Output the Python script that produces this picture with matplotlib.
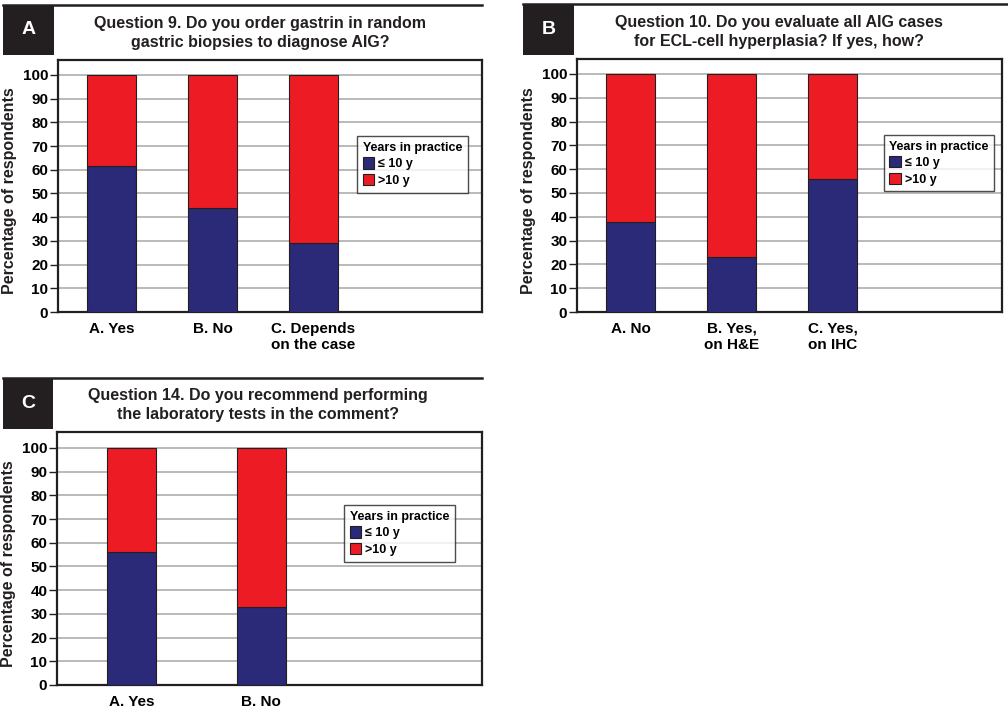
import matplotlib
matplotlib.use('Agg')
import matplotlib.pyplot as plt
from matplotlib.patches import Rectangle
from matplotlib.lines import Line2D

plt.rcParams['font.family'] = ['Liberation Sans', 'DejaVu Sans']
plt.rcParams['font.weight'] = 'bold'

# colors
navy = '#2a2a78'
red = '#ed1c24'
ink = '#231f20'
gridgray = '#b4b4b4'

# data (percent of respondents)
q9_labels = ['A. Yes', 'B. No', 'C. Depends\non the case']
q9_le10 = [61.5, 44.0, 29.0]
q9_gt10 = [38.5, 56.0, 71.0]

q10_labels = ['A. No', 'B. Yes,\non H&E', 'C. Yes,\non IHC']
q10_le10 = [37.7, 23.0, 56.0]
q10_gt10 = [62.3, 77.0, 44.0]

q14_labels = ['A. Yes', 'B. No']
q14_le10 = [56.0, 33.0]
q14_gt10 = [44.0, 67.0]

legend_title = 'Years in practice'
series_names = ['\u2264 10 y', '>10 y']

W, H = 1008, 713
fig = plt.figure(figsize=(W / 100, H / 100), dpi=100)


def px_box(x0, y0, x1, y1):
    # pixel box (top-left origin) -> figure fraction rect
    return [x0 / W, 1 - y1 / H, (x1 - x0) / W, (y1 - y0) / H]


def header(letter, bx0, by0, bx1, by1, line_end, title, tx, ty):
    fig.add_artist(Rectangle((bx0 / W, 1 - by1 / H), (bx1 - bx0) / W, (by1 - by0) / H,
                             transform=fig.transFigure, facecolor=ink, edgecolor='none'))
    fig.add_artist(Line2D([bx0 / W, line_end / W], [1 - by0 / H, 1 - by0 / H],
                          transform=fig.transFigure, color=ink, lw=1.8))
    fig.text((bx0 + bx1) / 2 / W, 1 - (by0 + by1) / 2 / H, letter, color='white',
             fontsize=14, fontweight='bold', ha='center', va='center')
    fig.text(tx / W, 1 - ty / H, title, fontsize=11.5, fontweight='bold',
             ha='center', va='center', linespacing=1.3, color=ink)


def panel(rect, labels, le10, gt10, step, left_off, right_off, ytop, leg_anchor):
    ax = fig.add_axes(rect)
    x = list(range(len(labels)))
    bw = 49 / step
    ax.bar(x, le10, bw, color=navy, edgecolor=ink, linewidth=0.8, zorder=3, label=series_names[0])
    ax.bar(x, gt10, bw, bottom=le10, color=red, edgecolor=ink, linewidth=0.8, zorder=3,
           label=series_names[1])
    ax.set_xlim(-left_off, len(labels) - 1 + right_off)
    ax.set_ylim(0, ytop)
    ax.set_yticks(range(0, 101, 10))
    ax.set_xticks(x)
    ax.set_xticklabels(labels, fontsize=11, fontweight='bold', linespacing=1.2)
    ax.tick_params(axis='x', length=0, pad=7)
    ax.tick_params(axis='y', length=6, width=1, labelsize=11, pad=1, color=ink)
    for lab in ax.get_yticklabels():
        lab.set_fontweight('bold')
    ax.grid(axis='y', color=gridgray, lw=1.3, zorder=0)
    for s in ax.spines.values():
        s.set_linewidth(1.6)
        s.set_color(ink)
    ax.set_ylabel('Percentage of respondents', fontsize=11.5, fontweight='bold', color=ink)
    ax.yaxis.set_label_coords(-0.097, 0.48)
    leg = ax.legend(loc='upper left', bbox_to_anchor=leg_anchor, title=legend_title,
                    fontsize=9, title_fontsize=9, frameon=True, fancybox=False,
                    handlelength=0.95, handleheight=1.0, handletextpad=0.3,
                    labelspacing=0.3, borderpad=0.45, alignment='left',
                    borderaxespad=0)
    leg.get_frame().set_edgecolor(ink)
    leg.get_frame().set_linewidth(1.0)
    leg.get_title().set_fontweight('bold')
    for t in leg.get_texts():
        t.set_fontweight('bold')
    return ax


# panel A
header('A', 3, 5, 54, 55, 482,
       'Question 9. Do you order gastrin in random\ngastric biopsies to diagnose AIG?', 260, 33)
panel(px_box(58, 60, 482, 312), q9_labels, q9_le10, q9_gt10, 101, 0.53, 1.67, 106.3,
      (0.705, 0.698))

# panel B
header('B', 523, 4, 574, 55, 1008,
       'Question 10. Do you evaluate all AIG cases\nfor ECL-cell hyperplasia? If yes, how?', 779, 32)
panel(px_box(577, 59, 1002, 312), q10_labels, q10_le10, q10_gt10, 101, 0.535, 1.68, 106.3,
      (0.722, 0.70))

# panel C
header('C', 3, 378, 53, 429, 482,
       'Question 14. Do you recommend performing\nthe laboratory tests in the comment?', 258, 405)
panel(px_box(57, 432, 482, 685), q14_labels, q14_le10, q14_gt10, 130, 0.573, 1.70, 106.7,
      (0.675, 0.711))

fig.savefig('out.png', dpi=100)
